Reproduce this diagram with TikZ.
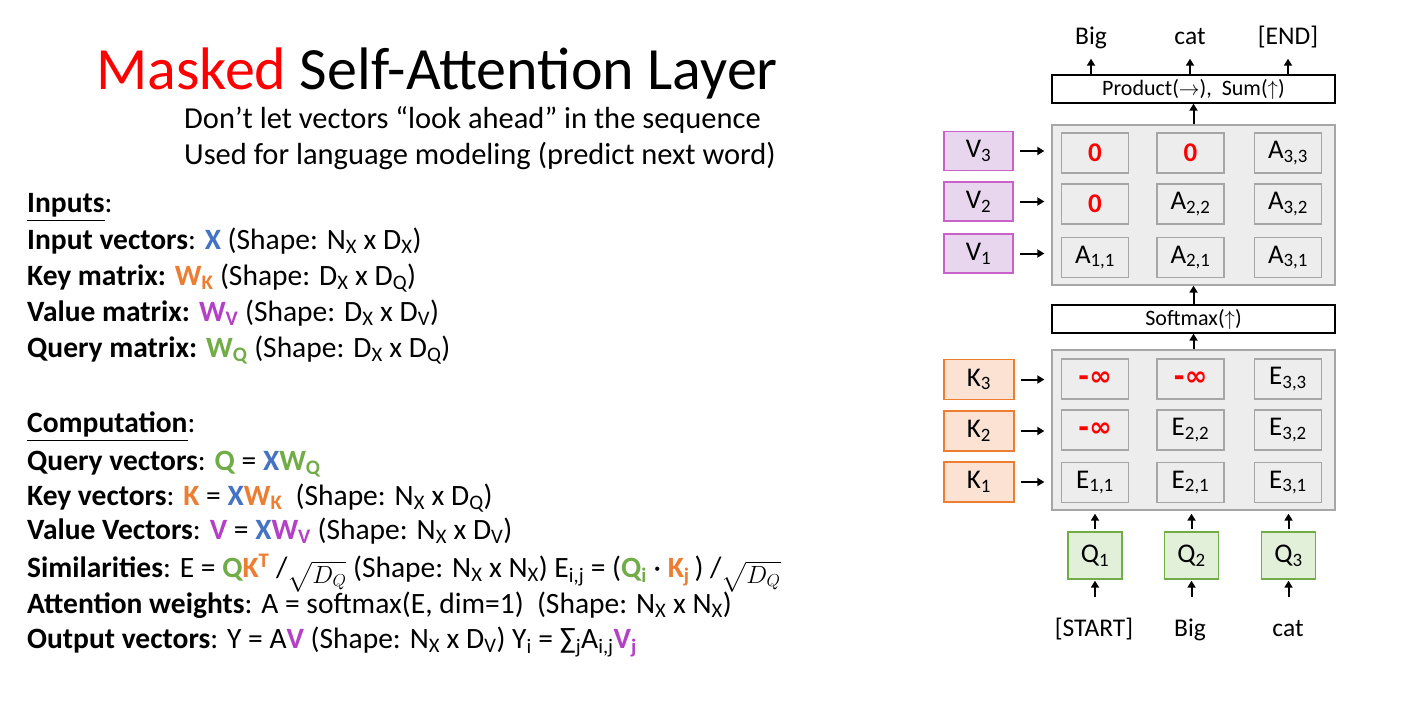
\documentclass[tikz,border=0pt]{standalone}
\usepackage{fontspec}
\usepackage{amsmath}
\setmainfont{Carlito}
\newfontfamily\dejavu{DejaVu Sans}
\usetikzlibrary{arrows.meta}
\definecolor{cblue}{HTML}{4472C4}
\definecolor{corange}{HTML}{ED7D31}
\definecolor{cpurple}{HTML}{B440C8}
\definecolor{cgreen}{HTML}{70AD47}
\definecolor{gfill}{HTML}{EDEDED}
\definecolor{gborder}{HTML}{A6A6A6}
\definecolor{vfill}{HTML}{E8D6EE}
\definecolor{vborder}{HTML}{C862C8}
\definecolor{kfill}{HTML}{FBE2D3}
\definecolor{kborder}{HTML}{ED7D31}
\definecolor{qfill}{HTML}{E2F0D9}
\definecolor{qborder}{HTML}{70AD47}
\newcommand{\lo}[1]{\textsubscript{#1}}
\newcommand{\ttl}{\fontsize{29.5}{34}\selectfont}
\newcommand{\minf}{\textcolor{red}{\dejavu\bfseries\fontsize{27}{28}\selectfont -∞}}
\newcommand{\sqdq}{\smash{\raisebox{-6pt}{\fontsize{27}{30}\selectfont$\sqrt{D_Q}$}}}
\begin{document}
\begin{tikzpicture}[x=1pt,y=-1pt,
  every node/.style={inner sep=0pt},
  txt/.style={anchor=base west,font=\ttl},
  cellbox/.style={draw=gborder,fill=gfill,line width=1.3pt,minimum width=67,minimum height=40,font=\fontsize{27}{30}\selectfont},
  bigbox/.style={draw=gborder,fill=gfill,line width=1.3pt},
  opbox/.style={draw=black,fill=white,line width=1.3pt,minimum width=283,minimum height=28,font=\fontsize{22}{24}\selectfont},
  vbox/.style={draw=vborder,fill=vfill,line width=1.3pt,minimum width=69,minimum height=39,font=\fontsize{27}{30}\selectfont},
  kbox/.style={draw=kborder,fill=kfill,line width=1.3pt,minimum width=70,minimum height=40,font=\fontsize{27}{30}\selectfont},
  qbox/.style={draw=qborder,fill=qfill,line width=1.3pt,minimum width=54,minimum height=47,font=\fontsize{27}{30}\selectfont},
  word/.style={font=\fontsize{25.5}{28}\selectfont,text height=17,text depth=5},
  arr/.style={line width=2pt,-{Triangle[length=7pt,width=8pt]}}
]
\useasboundingbox (0,0) rectangle (1402,712);
\fill[white] (0,0) rectangle (1402,712);

% Title
\node[anchor=base west,font=\fontsize{60}{64}\selectfont] (title) at (96,89) {{\color{red}Masked} Self-Attention Layer};
\node[anchor=base west,font=\fontsize{30.5}{34}\selectfont] (sub1) at (184,128) {Don’t let vectors “look ahead” in the sequence};
\node[anchor=base west,font=\fontsize{30.5}{34}\selectfont] (sub2) at (184,164) {Used for language modeling (predict next word)};

% Inputs
\node[txt] (in0) at (27,212) {\underline{\textbf{Inputs}}:};
\node[txt] (in1) at (27,249) {\textbf{Input vectors}: {\bfseries\color{cblue}X} (Shape: N\lo{X} x D\lo{X})};
\node[txt] (in2) at (27,285) {\textbf{Key matrix:} {\bfseries\color{corange}W\lo{K}} (Shape: D\lo{X} x D\lo{Q})};
\node[txt] (in3) at (27,321) {\textbf{Value matrix:} {\bfseries\color{cpurple}W\lo{V}} (Shape: D\lo{X} x D\lo{V})};
\node[txt] (in4) at (27,357) {\textbf{Query matrix:} {\bfseries\color{cgreen}W\lo{Q}} (Shape: D\lo{X} x D\lo{Q})};

% Computation
\node[txt] (c0) at (27,432) {\underline{\textbf{Computation}}:};
\node[txt] (c1) at (27,470) {\textbf{Query vectors}: {\bfseries\color{cgreen}Q} = {\bfseries\color{cblue}X}{\bfseries\color{cgreen}W\lo{Q}}};
\node[txt] (c2) at (27,505) {\textbf{Key vectors}: {\bfseries\color{corange}K} = {\bfseries\color{cblue}X}{\bfseries\color{corange}W\lo{K}}\ \ (Shape: N\lo{X} x D\lo{Q})};
\node[txt] (c3) at (27,539) {\textbf{Value Vectors}: {\bfseries\color{cpurple}V} = {\bfseries\color{cblue}X}{\bfseries\color{cpurple}W\lo{V}} (Shape: N\lo{X} x D\lo{V})};
\node[txt] (c4) at (27,577) {\textbf{Similarities}: E = {\bfseries\color{cgreen}Q}{\bfseries\color{corange}K\textsuperscript{T}} /\sqdq{} (Shape: N\lo{X} x N\lo{X}) E\lo{i,j} = ({\bfseries\color{cgreen}Q\lo{i}} · {\bfseries\color{corange}K\lo{j}}\,) /\sqdq};
\node[txt] (c5) at (27,613) {\textbf{Attention weights}: A = softmax(E, dim=1)\ \ (Shape: N\lo{X} x N\lo{X})};
\node[txt] (c6) at (27,648) {\textbf{Output vectors}: Y = A{\bfseries\color{cpurple}V} (Shape: N\lo{X} x D\lo{V}) Y\lo{i} = ∑\lo{j}A\lo{i,j}{\bfseries\color{cpurple}V\lo{j}}};

% Right diagram
\node[opbox] (prod) at (1193.5,89) {Product($\rightarrow$),\ \ Sum($\uparrow$)};
\node[bigbox,minimum width=283,minimum height=160] (upper) at (1193.5,205) {};
\node[opbox] (soft) at (1193.5,319) {Softmax($\uparrow$)};
\node[bigbox,minimum width=283,minimum height=160] (lower) at (1193.5,430) {};

% upper cells
\node[cellbox] (a13) at (1095,153) {\textcolor{red}{\bfseries 0}};
\node[cellbox] (a23) at (1190.5,153) {\textcolor{red}{\bfseries 0}};
\node[cellbox] (a33) at (1288,153) {A\lo{3,3}};
\node[cellbox] (a12) at (1095,204) {\textcolor{red}{\bfseries 0}};
\node[cellbox] (a22) at (1190.5,204) {A\lo{2,2}};
\node[cellbox] (a32) at (1288,204) {A\lo{3,2}};
\node[cellbox] (a11) at (1095,257.5) {A\lo{1,1}};
\node[cellbox] (a21) at (1190.5,257.5) {A\lo{2,1}};
\node[cellbox] (a31) at (1288,257.5) {A\lo{3,1}};

% lower cells
\node[cellbox] (e13) at (1095,379) {\minf};
\node[cellbox] (e23) at (1190.5,379) {\minf};
\node[cellbox] (e33) at (1288,379) {E\lo{3,3}};
\node[cellbox] (e12) at (1095,430) {\minf};
\node[cellbox] (e22) at (1190.5,430) {E\lo{2,2}};
\node[cellbox] (e32) at (1288,430) {E\lo{3,2}};
\node[cellbox] (e11) at (1095,482.5) {E\lo{1,1}};
\node[cellbox] (e21) at (1190.5,482.5) {E\lo{2,1}};
\node[cellbox] (e31) at (1288,482.5) {E\lo{3,1}};

% V boxes
\node[vbox] (v3) at (978.5,151) {V\lo{3}};
\node[vbox] (v2) at (978.5,201.5) {V\lo{2}};
\node[vbox] (v1) at (978.5,253.5) {V\lo{1}};
% K boxes
\node[kbox] (k3) at (979,379.5) {K\lo{3}};
\node[kbox] (k2) at (979,431) {K\lo{2}};
\node[kbox] (k1) at (979,482) {K\lo{1}};
% Q boxes
\node[qbox] (q1) at (1095,555.5) {Q\lo{1}};
\node[qbox] (q2) at (1191.5,555.5) {Q\lo{2}};
\node[qbox] (q3) at (1288.5,555.5) {Q\lo{3}};

% words
\node[word] (w1) at (1094,630) {[START]};
\node[word] (w2) at (1190,630) {Big};
\node[word] (w3) at (1288,630) {cat};
\node[word] (o1) at (1091,38) {Big};
\node[word] (o2) at (1190,38) {cat};
\node[word] (o3) at (1288,38) {[END]};

% arrows
\foreach \v in {v1,v2,v3,k1,k2,k3}
  \draw[arr,shorten <=6,shorten >=7] (\v.east) -- (\v.east -| upper.west);
\foreach \q in {q1,q2,q3}
  \draw[arr,shorten <=2,shorten >=3] (\q.north) -- (\q.north |- lower.south);
\draw[arr,shorten <=21.5,shorten >=1] (w1.north -| q1.south) -- (q1.south);
\draw[arr,shorten <=21.5,shorten >=1] (w2.north -| q2.south) -- (q2.south);
\draw[arr,shorten <=21.5,shorten >=1] (w3.north -| q3.south) -- (q3.south);
\draw[arr] (lower.north) -- (soft.south);
\draw[arr] (soft.north) -- (upper.south);
\draw[arr] (upper.north) -- (prod.south);
\draw[arr,shorten >=9.5] (prod.north -| o1.south) -- (o1.south);
\draw[arr,shorten >=9.5] (prod.north -| o2.south) -- (o2.south);
\draw[arr,shorten >=9.5] (prod.north -| o3.south) -- (o3.south);
\end{tikzpicture}
\end{document}
